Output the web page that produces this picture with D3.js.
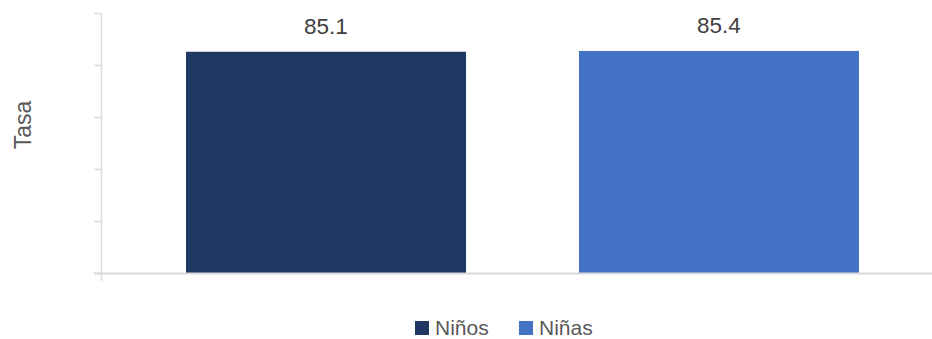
<!DOCTYPE html>
<html>
<head>
<meta charset="utf-8">
<script src="https://cdn.jsdelivr.net/npm/d3@7"></script>
<style>
	body { margin: 0; background: #fff; }
	text { font-family: "Liberation Sans", Arial, sans-serif; }
</style>
</head>
<body>
<svg id="chart" width="932" height="339"></svg>
<script>
const categories = ["Niños", "Niñas"];
const values = [85.1, 85.4];
const barColors = ["#203864", "#4472C4"];
const yTicks = [0, 20, 40, 60, 80, 100];
const yLabel = "Tasa";

const width = 932,
	height = 339,
	axisColor = "#d9d9d9";

const svg = d3.select("#chart");

const x = d3.scaleBand().domain(categories).range([186, 859]).paddingInner(0.2875).paddingOuter(0);

const y = d3.scaleLinear().domain([0, 100]).range([273, 13]);

// y axis
const g_axis = svg.append("g").attr("class", "y-axis");
g_axis
	.append("line")
	.attr("x1", 101.5)
	.attr("x2", 101.5)
	.attr("y1", y(100))
	.attr("y2", y(0) + 8)
	.attr("stroke", axisColor)
	.attr("stroke-width", 1.5);

g_axis
	.selectAll(".tick")
	.data(yTicks)
	.join("line")
	.attr("class", "tick")
	.attr("x1", 94)
	.attr("x2", 101.5)
	.attr("y1", (d) => Math.round(y(d)) + 0.5)
	.attr("y2", (d) => Math.round(y(d)) + 0.5)
	.attr("stroke", axisColor)
	.attr("stroke-width", 1.5);

// bars
svg.append("g")
	.selectAll(".bar")
	.data(categories)
	.join("rect")
	.attr("class", "bar")
	.attr("x", (d) => x(d))
	.attr("width", x.bandwidth())
	.attr("y", (d, i) => y(values[i]))
	.attr("height", (d, i) => y(0) - y(values[i]))
	.attr("fill", (d, i) => barColors[i]);

// baseline
svg.append("line")
	.attr("x1", 94)
	.attr("x2", width)
	.attr("y1", y(0) + 0.5)
	.attr("y2", y(0) + 0.5)
	.attr("stroke", axisColor)
	.attr("stroke-width", 2);

// value labels
svg.append("g")
	.selectAll(".value")
	.data(categories)
	.join("text")
	.attr("class", "value")
	.attr("x", (d) => x(d) + x.bandwidth() / 2)
	.attr("y", (d, i) => y(values[i]) - 18)
	.attr("text-anchor", "middle")
	.attr("font-size", 22.5)
	.attr("fill", "#404040")
	.text((d, i) => values[i].toFixed(1));

// y label
svg.append("text")
	.attr("transform", "translate(31,125) rotate(-90)")
	.attr("text-anchor", "middle")
	.attr("font-size", 23)
	.attr("fill", "#595959")
	.text(yLabel);

// legend
const legendX = [415, 519];
const legend = svg
	.append("g")
	.selectAll(".legend")
	.data(categories)
	.join("g")
	.attr("class", "legend")
	.attr("transform", (d, i) => `translate(${legendX[i]},321)`);

legend
	.append("rect")
	.attr("width", 14)
	.attr("height", 14)
	.attr("fill", (d, i) => barColors[i]);

legend
	.append("text")
	.attr("x", 20)
	.attr("y", 14)
	.attr("font-size", 21)
	.attr("fill", "#595959")
	.text((d) => d);
</script>
</body>
</html>
